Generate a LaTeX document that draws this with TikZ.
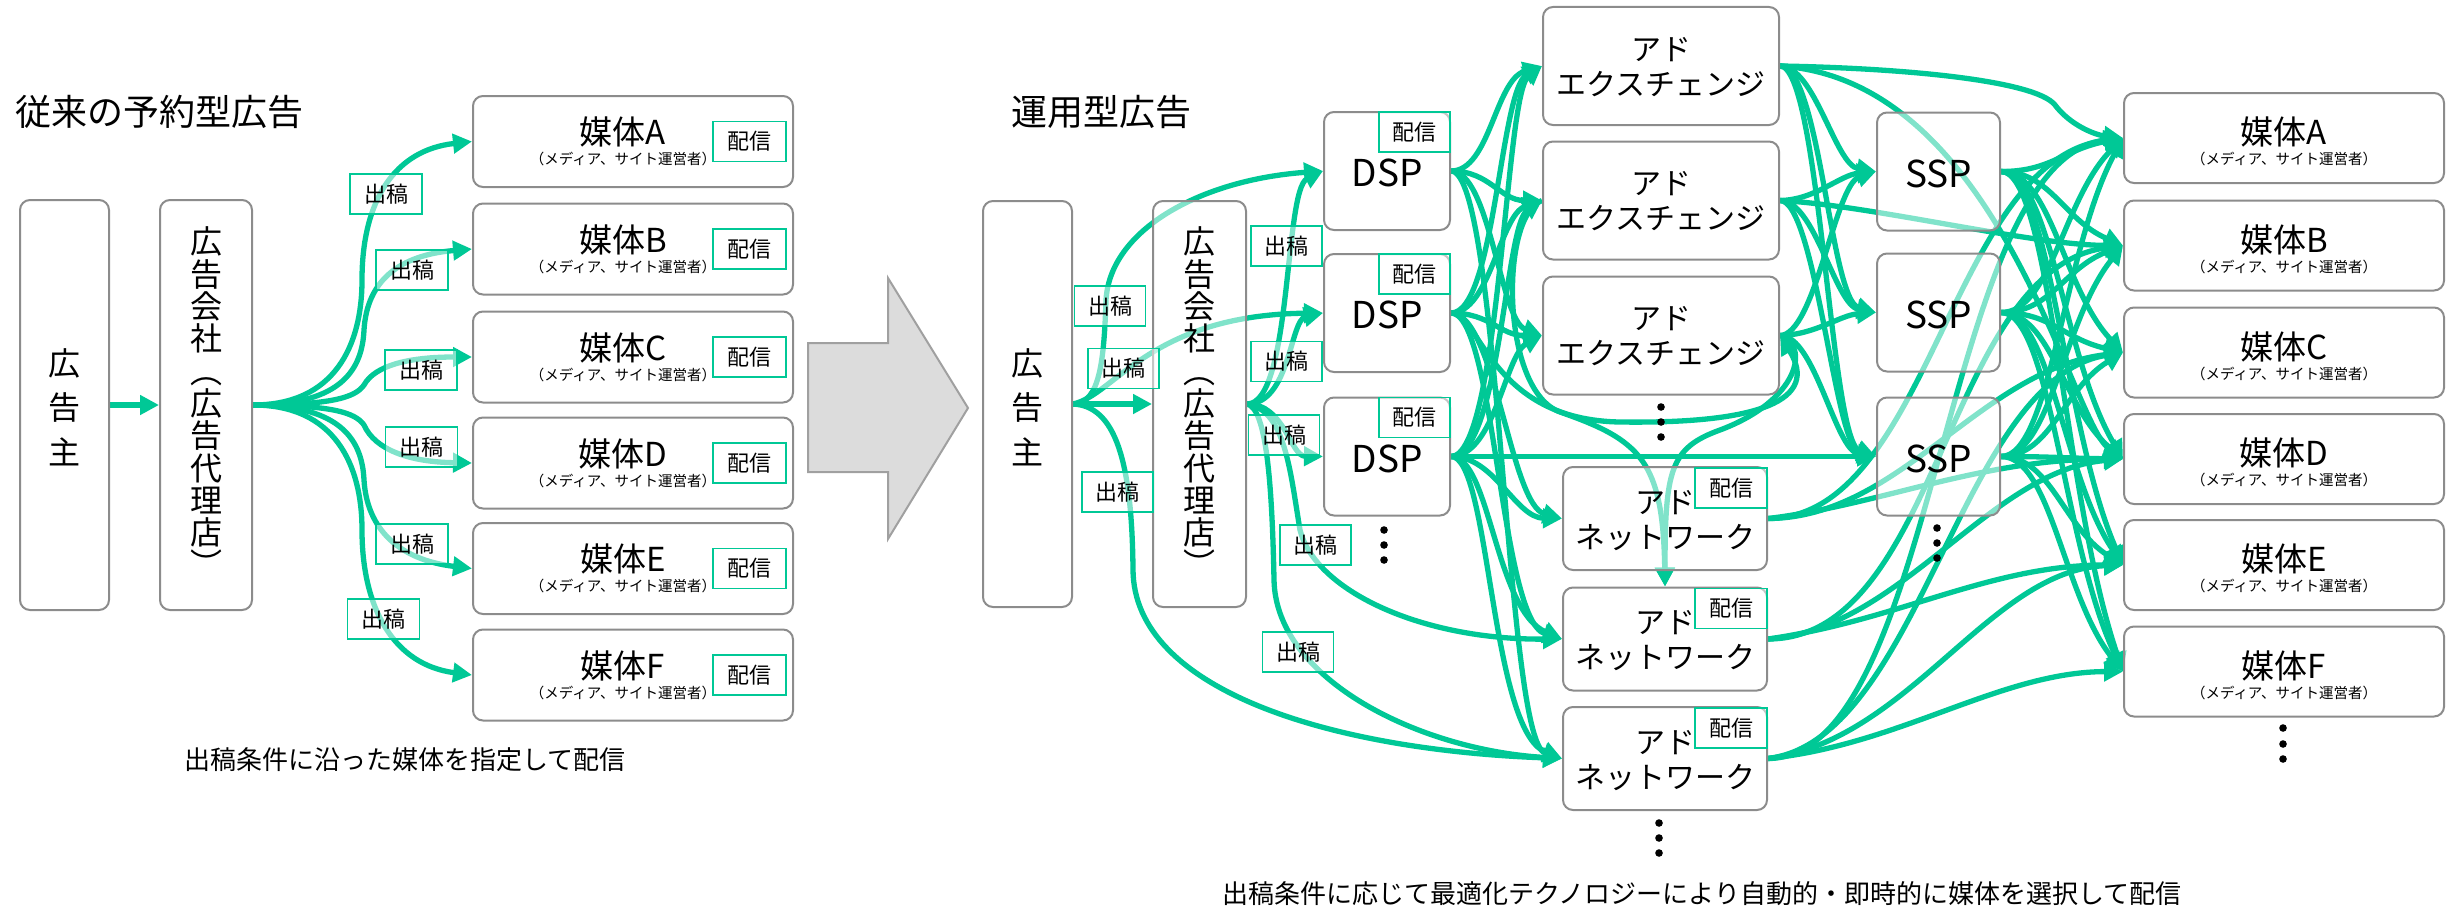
\documentclass[tikz,border=0pt]{standalone}
\usepackage{fontspec}
\setmainfont{Noto Sans CJK JP}
\usetikzlibrary{arrows.meta}
\definecolor{grn}{HTML}{00C896}
\definecolor{bgray}{HTML}{8C8C8C}
\definecolor{arrfill}{HTML}{DCDCDC}
\definecolor{arrdraw}{HTML}{A0A0A0}
\newcommand{\myfs}[1]{\fontsize{#1}{#1}\selectfont}
\pgfdeclarelayer{back}
\pgfsetlayers{back,main}
\begin{document}
\begin{tikzpicture}[x=1pt,y=-1pt,
  box/.style={draw=bgray, line width=2pt, rounded corners=10pt, fill=white, fill opacity=0.5, text opacity=1, draw opacity=1, inner sep=0pt},
  lab/.style={draw=grn, line width=1.6pt, fill=white, fill opacity=0.5, text opacity=1, draw opacity=1, inner sep=0pt, minimum width=72pt, minimum height=40pt, font=\myfs{22}},
  flow/.style={draw=grn, line width=5.3pt, -{Triangle[length=19pt,width=19pt]}},
  txt/.style={inner sep=0pt},
  dotn/.style={circle, fill=black, inner sep=0pt, minimum size=7.6pt},
]
\useasboundingbox (0,0) rectangle (2446,907);

% ================= LEFT =================
\node[txt, anchor=west, font=\myfs{36}] (titL) at (15,112) {従来の予約型広告};
\node[box, minimum width=89pt, minimum height=410pt] (advL) at (64.5,405) {};
\node[txt, align=center, font=\fontsize{32}{44.5}\selectfont] (advLt) at (64.5,407) {広\\告\\主};
\node[box, minimum width=92pt, minimum height=410pt] (agL) at (206,405) {};
\node[txt, align=center, font=\fontsize{32}{32.3}\selectfont] (agLt) at (206,402) {広\\告\\会\\社\\︵\\広\\告\\代\\理\\店\\︶};

\foreach \n/\y in {A/141.5,B/249,C/357,D/463,E/568.5,F/675}{
  \node[box, minimum width=320pt, minimum height=91pt] (mL\n) at (633,\y) {};
  \node[txt, font=\myfs{33}] (mL\n t) at (623,\y-9.5) {媒体\n};
  \node[txt, font=\myfs{14.5}] (mL\n s) at (623,\y+17.5) {（メディア、サイト運営者）};
  \node[lab, minimum width=73pt] (mL\n d) at (749.5,\y) {配信};
}

\begin{pgfonlayer}{back}
\draw[flow] (advL.east) -- (agL.west);
\draw[flow] (agL.east) .. controls (335,405) and (362,345) .. (362,280) .. controls (362,200) and (395,150) .. (mLA.west);
\draw[flow] (agL.east) .. controls (335,405) and (362,375) .. (364,330) .. controls (367,280) and (400,255) .. (mLB.west);
\draw[flow] (agL.east) .. controls (330,405) and (355,398) .. (364,385) .. controls (375,365) and (410,357) .. (mLC.west);
\draw[flow] (agL.east) .. controls (330,405) and (355,412) .. (364,425) .. controls (375,450) and (410,462) .. (mLD.west);
\draw[flow] (agL.east) .. controls (335,405) and (362,435) .. (364,480) .. controls (367,530) and (400,560) .. (mLE.west);
\draw[flow] (agL.east) .. controls (335,405) and (362,465) .. (362,530) .. controls (362,610) and (395,665) .. (mLF.west);
\end{pgfonlayer}

\node[lab] (l1) at (386,194) {出稿};
\node[lab] (l2) at (412,270) {出稿};
\node[lab] (l3) at (421,370) {出稿};
\node[lab] (l4) at (421.5,447) {出稿};
\node[lab] (l5) at (412,544) {出稿};
\node[lab] (l6) at (383.5,619) {出稿};

\node[txt, anchor=west, font=\myfs{26}] (capL) at (184,760) {出稿条件に沿った媒体を指定して配信};

% big arrow
\draw[draw=arrdraw, line width=2pt, fill=arrfill] (808,343) -- (888,343) -- (888,278) -- (968,408) -- (888,539) -- (888,472) -- (808,472) -- cycle;

% ================= RIGHT =================
\node[txt, anchor=west, font=\myfs{36}] (titR) at (1011,112) {運用型広告};
\node[box, minimum width=89pt, minimum height=406pt] (adv) at (1027.5,404) {};
\node[txt, align=center, font=\fontsize{32}{44.5}\selectfont] (advt) at (1027.5,407) {広\\告\\主};
\node[box, minimum width=93pt, minimum height=406pt] (ag) at (1199.5,404) {};
\node[txt, align=center, font=\fontsize{32}{32.3}\selectfont] (agt) at (1199.5,402) {広\\告\\会\\社\\︵\\広\\告\\代\\理\\店\\︶};

\foreach \i/\y in {1/171,2/313,3/456.5}{
  \node[box, minimum width=126pt, minimum height=118pt] (dsp\i) at (1387,\y) {};
  \node[txt, font=\myfs{37}] (dsp\i t) at (1387,\y+2) {DSP};
  \node[lab, minimum width=71pt, anchor=north east] (dsp\i d) at (dsp\i.north east) {配信};
}
\foreach \i/\y in {1/66,2/200.5,3/335.5}{
  \node[box, minimum width=236pt, minimum height=118pt] (ae\i) at (1661,\y) {};
  \node[txt, align=center, font=\fontsize{30}{35}\selectfont] (ae\i t) at (1661,\y+1) {アド\\エクスチェンジ};
}
\foreach \i/\y in {1/518.5,2/639,3/758.5}{
  \node[box, minimum width=204pt, minimum height=103pt] (an\i) at (1665,\y) {};
  \node[txt, align=center, font=\fontsize{30}{35}\selectfont] (an\i t) at (1665,\y+2) {アド\\ネットワーク};
  \node[lab, minimum width=72pt, anchor=north east] (an\i d) at ([yshift=-1pt]an\i.north east) {配信};
}
\foreach \i/\y in {1/171.5,2/312.5,3/456.5}{
  \node[box, minimum width=123pt, minimum height=118pt] (ssp\i) at (1938.5,\y) {};
  \node[txt, font=\myfs{37}] (ssp\i t) at (1938.5,\y+2) {SSP};
}
\foreach \n/\y in {A/138,B/245.5,C/352.5,D/459,E/565,F/671.5}{
  \node[box, minimum width=320pt, minimum height=90pt] (m\n) at (2284,\y) {};
  \node[txt, font=\myfs{33}] (m\n t) at (2284,\y-6) {媒体\n};
  \node[txt, font=\myfs{14.5}] (m\n s) at (2284,\y+21) {（メディア、サイト運営者）};
}

\begin{pgfonlayer}{back}
% advertiser / agency
\draw[flow] (adv.east) -- (ag.west);
\draw[flow] (adv.east) .. controls (1100,404) and (1104,360) .. (1106,300) .. controls (1110,230) and (1200,180) .. (dsp1.west);
\draw[flow] (adv.east) .. controls (1115,395) and (1150,315) .. (dsp2.west);
\draw[flow] (adv.east) .. controls (1115,406) and (1132,460) .. (1133,570) .. controls (1134,690) and (1330,750) .. (an3.west);
\draw[flow] (ag.east) .. controls (1292,404) and (1284,190) .. (dsp1.west);
\draw[flow] (ag.east) .. controls (1290,404) and (1290,320) .. (dsp2.west);
\draw[flow] (ag.east) .. controls (1285,404) and (1290,456) .. (dsp3.west);
\draw[flow] (ag.east) .. controls (1285,410) and (1290,470) .. (1300,530) .. controls (1315,590) and (1420,640) .. (an2.west);
\draw[flow] (ag.east) .. controls (1266,408) and (1272,480) .. (1274,580) .. controls (1276,680) and (1420,750) .. (an3.west);
% DSP -> AE
\draw[flow] (dsp1.east) .. controls (1490,171) and (1495,80) .. (ae1.west);
\draw[flow] (dsp1.east) .. controls (1490,171) and (1500,200.5) .. (ae2.west);
\draw[flow] (dsp1.east) .. controls (1490,171) and (1500,320) .. (ae3.west);
\draw[flow] (dsp2.east) .. controls (1495,313) and (1500,90) .. (ae1.west);
\draw[flow] (dsp2.east) .. controls (1490,313) and (1500,215) .. (ae2.west);
\draw[flow] (dsp2.east) .. controls (1490,313) and (1500,335.5) .. (ae3.west);
\draw[flow] (dsp3.east) .. controls (1500,456) and (1505,95) .. (ae1.west);
\draw[flow] (dsp3.east) .. controls (1500,456) and (1505,225) .. (ae2.west);
\draw[flow] (dsp3.east) .. controls (1495,456) and (1505,355) .. (ae3.west);
% DSP -> AN / SSP
\draw[flow] (dsp1.east) .. controls (1500,171) and (1505,740) .. (an3.west);
\draw[flow] (dsp2.east) .. controls (1495,313) and (1500,620) .. (an2.west);
\draw[flow] (dsp2.east) .. controls (1495,313) and (1510,505) .. (an1.west);
\draw[flow] (dsp3.east) .. controls (1495,456) and (1515,518) .. (an1.west);
\draw[flow] (dsp3.east) .. controls (1490,456) and (1495,610) .. (an2.west);
\draw[flow] (dsp3.east) .. controls (1490,456) and (1490,730) .. (an3.west);
\draw[flow] (dsp3.east) -- (ssp3.west);
\draw[flow] (ae2.west) .. controls (1500,215) and (1500,390) .. (1560,412) .. controls (1640,440) and (1663,460) .. (an2.north);
\draw[flow] (ae3.east) .. controls (1810,345) and (1800,400) .. (1720,430) .. controls (1670,448) and (1665,470) .. (an2.north);
\draw[flow] (dsp2.east) .. controls (1480,313) and (1490,420) .. (1620,422) .. controls (1760,424) and (1820,400) .. (ae3.east);
% AE -> SSP
\draw[flow] (ae1.east) .. controls (1815,66) and (1835,165) .. (ssp1.west);
\draw[flow] (ae1.east) .. controls (1820,66) and (1830,300) .. (ssp2.west);
\draw[flow] (ae1.east) .. controls (1820,66) and (1830,440) .. (ssp3.west);
\draw[flow] (ae2.east) .. controls (1815,200) and (1840,175) .. (ssp1.west);
\draw[flow] (ae2.east) .. controls (1815,200) and (1835,305) .. (ssp2.west);
\draw[flow] (ae2.east) .. controls (1815,200) and (1835,445) .. (ssp3.west);
\draw[flow] (ae3.east) .. controls (1815,335) and (1835,185) .. (ssp1.west);
\draw[flow] (ae3.east) .. controls (1815,335) and (1840,315) .. (ssp2.west);
\draw[flow] (ae3.east) .. controls (1815,335) and (1835,450) .. (ssp3.west);
% AE -> media
\draw[flow] (ae1.east) .. controls (1900,68) and (2035,80) .. (2055,105) .. controls (2070,125) and (2095,135) .. (mA.west);
\draw[flow] (ae1.east) .. controls (2000,80) and (2070,420) .. (mD.west);
\draw[flow] (ae2.east) .. controls (1870,205) and (2030,245) .. (mB.west);
% SSP -> media
\foreach \s/\sy in {ssp1/171.5,ssp2/312.5,ssp3/456.5}{
  \foreach \t/\ty in {mA/138,mB/245.5,mC/352.5,mD/459,mE/565,mF/671.5}{
    \pgfmathsetmacro{\dy}{(\sy-\ty)*0.35}
    \draw[flow] (\s.east) .. controls +(50,0) and +(-60,\dy) .. (\t.west);
  }
}
% AN -> media
\draw[flow] (an1.east) .. controls (1930,518) and (1950,160) .. (mA.west);
\draw[flow] (an1.east) .. controls (1900,518) and (1980,370) .. (mC.west);
\draw[flow] (an1.east) .. controls (1880,505) and (1980,459) .. (mD.west);
\draw[flow] (an2.east) .. controls (1940,639) and (1945,270) .. (mB.west);
\draw[flow] (an2.east) .. controls (1900,630) and (1990,470) .. (mD.west);
\draw[flow] (an2.east) .. controls (1900,620) and (1990,565) .. (mE.west);
\draw[flow] (an3.east) .. controls (1940,758) and (1940,160) .. (mA.west);
\draw[flow] (an3.east) .. controls (1920,740) and (1960,380) .. (mC.west);
\draw[flow] (an3.east) .. controls (1910,740) and (1990,570) .. (mE.west);
\draw[flow] (an3.east) .. controls (1900,745) and (2000,672) .. (mF.west);
\end{pgfonlayer}

\node[lab, minimum width=71pt] (r1) at (1110,306) {出稿};
\node[lab, minimum width=71pt] (r2) at (1123.5,368.5) {出稿};
\node[lab, minimum width=71pt] (r3) at (1117.5,492) {出稿};
\node[lab, minimum width=71pt] (r4) at (1286.5,246) {出稿};
\node[lab, minimum width=71pt] (r5) at (1286.5,361.5) {出稿};
\node[lab, minimum width=71pt] (r6) at (1284,435) {出稿};
\node[lab, minimum width=71pt] (r7) at (1315.5,545) {出稿};
\node[lab, minimum width=71pt] (r8) at (1298,652) {出稿};

% dots
\foreach \x/\y [count=\k] in {1384/530,1384/545,1384/560, 1661/407,1661/422,1661/437, 1659/823,1659/838,1659/853, 1937/528,1937/543,1937/558, 2283/728,2283/744,2283/759}{
  \node[dotn] (dot\k) at (\x,\y) {};
}

\node[txt, anchor=west, font=\myfs{26}] (capR) at (1222,894) {出稿条件に応じて最適化テクノロジーにより自動的・即時的に媒体を選択して配信};
\end{tikzpicture}
\end{document}
